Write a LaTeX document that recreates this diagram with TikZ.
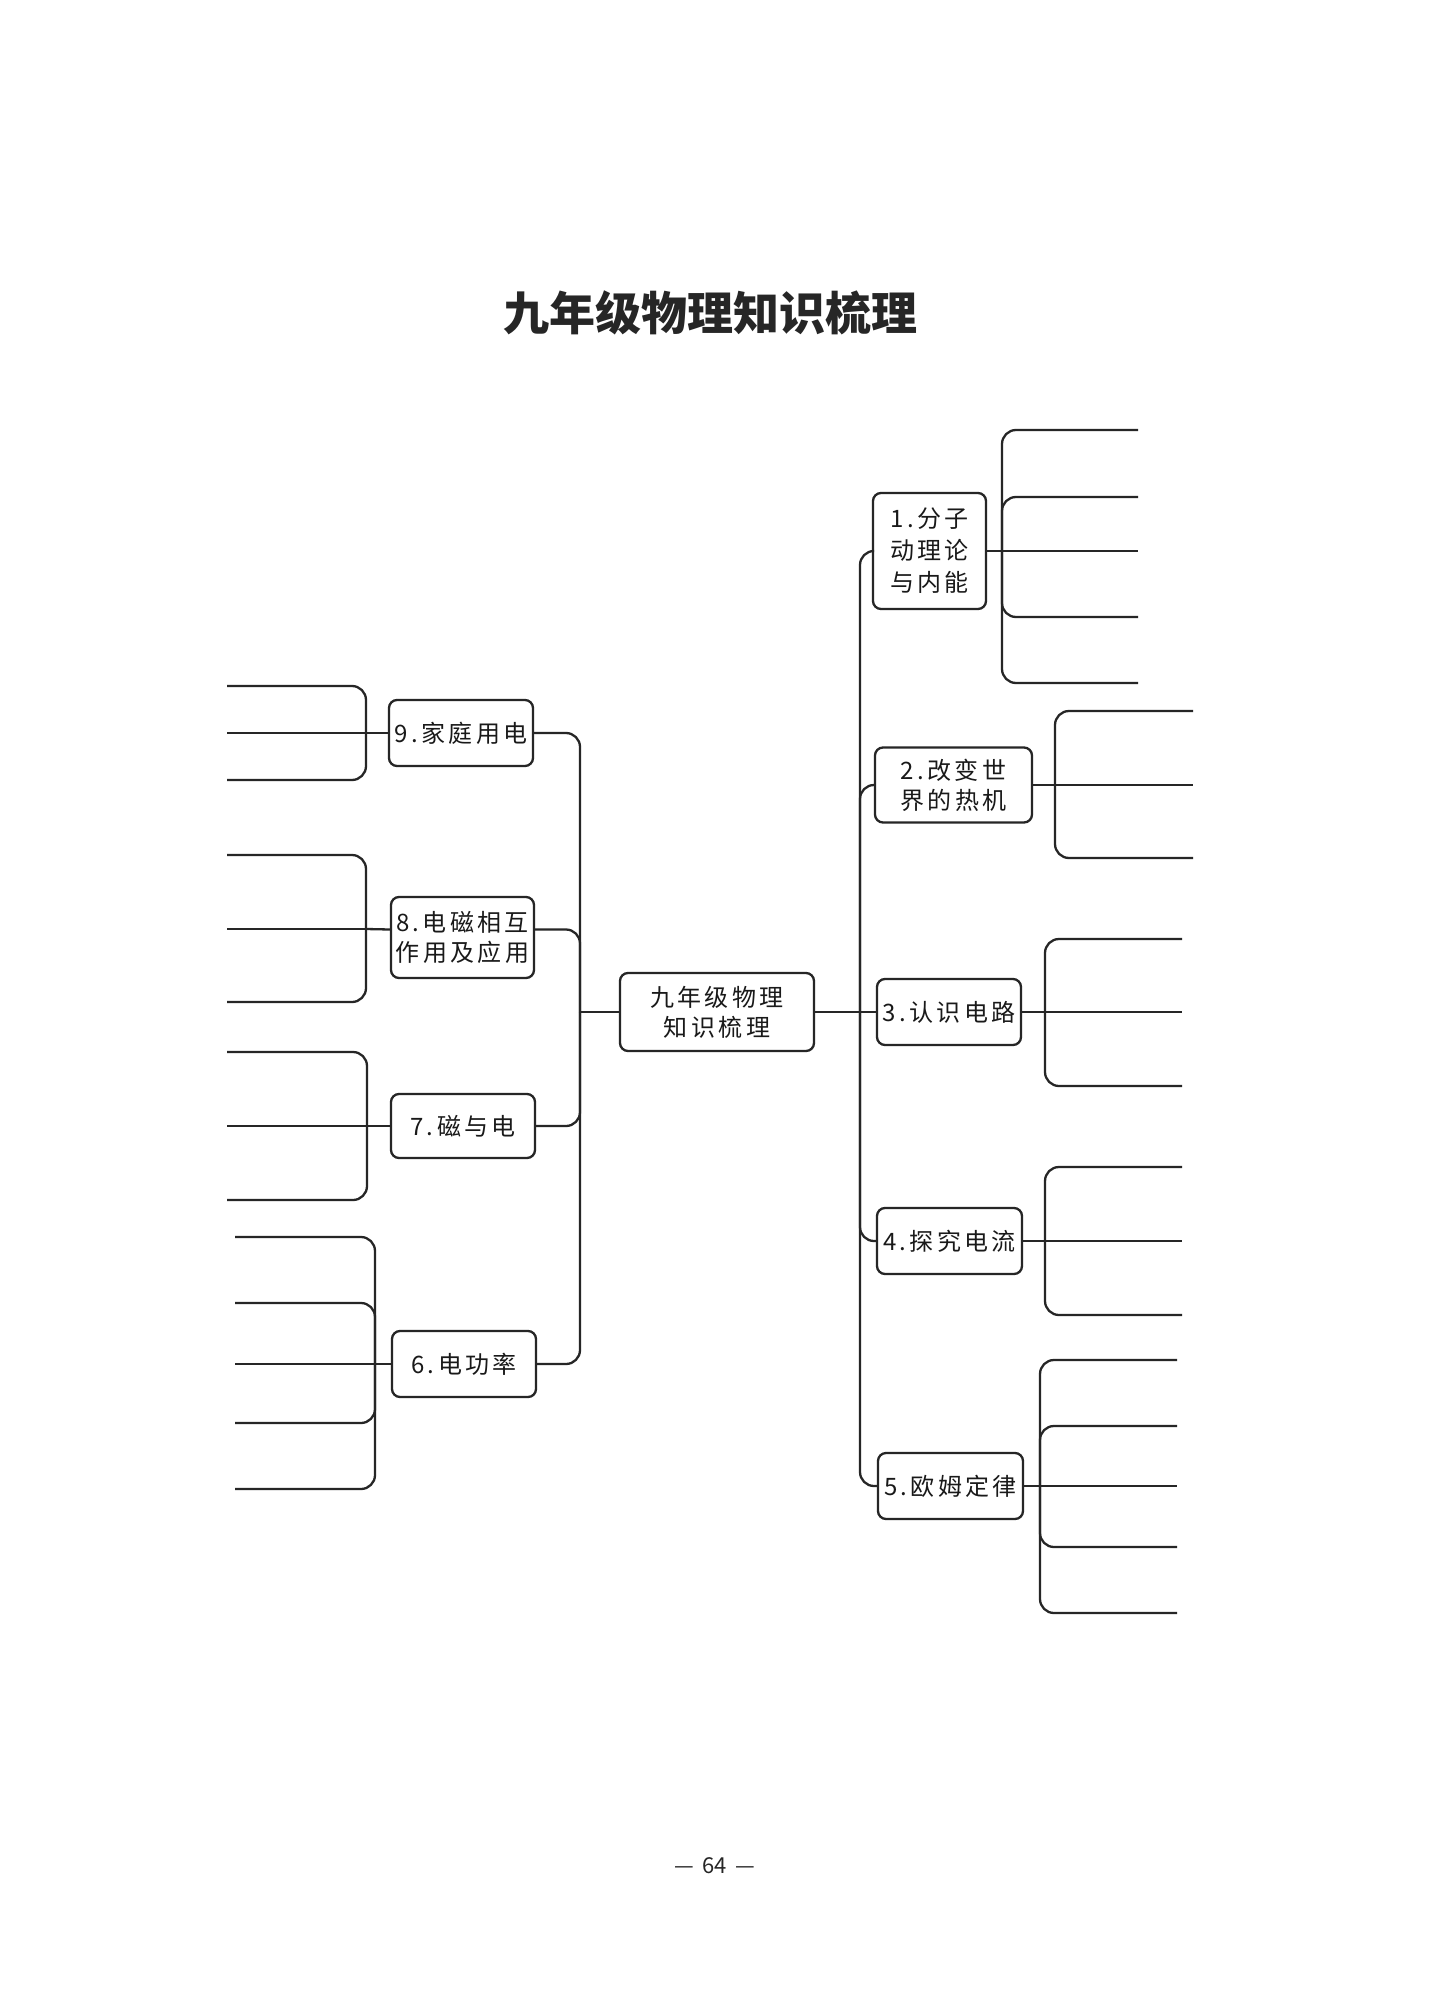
\documentclass[tikz,border=0pt]{standalone}
\usepackage{fontspec}
\newfontfamily\cjk[LetterSpace=14]{Noto Sans CJK SC}
\newfontfamily\cjkplain{Noto Sans CJK SC}
\begin{document}
\begin{tikzpicture}[x=0.5pt,y=-0.5pt,
  box/.style={draw=black!85,line width=1.15pt,rounded corners=4pt,align=center,
    font=\cjk\fontsize{12}{15}\selectfont,inner sep=0pt,text=black!90},
  wire/.style={draw=black!85,line width=1.15pt,rounded corners=7pt}]
\fill[white] (0,0) rectangle (1447,2000);
\useasboundingbox (0,0) rectangle (1447,2000);

\node[font=\cjkplain\bfseries\fontsize{23}{23}\selectfont,text=black!85] (title) at (710,313) {九年级物理知识梳理};

% centre
\node[box,minimum width=97pt,minimum height=39pt] (C) at (717,1012) {九年级物理\\知识梳理};

% right boxes
\node[box,minimum width=56.5pt,minimum height=58pt,font=\cjk\fontsize{12}{16}\selectfont] (B1) at (929.5,551) {1.分子\\动理论\\与内能};
\node[box,minimum width=78.5pt,minimum height=37.5pt] (B2) at (953.5,785) {2.改变世\\界的热机};
\node[box,minimum width=72pt,minimum height=33pt] (B3) at (949,1012) {3.认识电路};
\node[box,minimum width=72.5pt,minimum height=33pt] (B4) at (949.5,1241) {4.探究电流};
\node[box,minimum width=72.5pt,minimum height=33pt] (B5) at (950.5,1486) {5.欧姆定律};

% left boxes
\node[box,minimum width=72pt,minimum height=33pt] (B9) at (461,733) {9.家庭用电};
\node[box,minimum width=71.5pt,minimum height=40.5pt] (B8) at (462.5,937.5) {8.电磁相互\\作用及应用};
\node[box,minimum width=72pt,minimum height=32pt] (B7) at (463,1126) {7.磁与电};
\node[box,minimum width=72pt,minimum height=33pt] (B6) at (464,1364) {6.电功率};

% trunks
\coordinate (TR) at (860,1012);
\coordinate (TL) at (580,1012);
\draw[wire] (C.east) -- (TR);
\draw[wire] (C.west) -- (TL);
\foreach \b in {B1,B2,B4,B5} \draw[wire] (TR) |- (\b.west);
\draw[wire] (TR) -- (B3.west);
\foreach \b in {B9,B7,B6} \draw[wire] (TL) |- (\b.east);
\draw[wire] (TL) |- ([yshift=4pt]B8.east);

% right brackets
\coordinate (k1) at (1002,551);
\draw[wire] (B1.east) -- (k1);
\foreach \y in {430,497,617,683} {\coordinate (e1-\y) at (1138,\y); \draw[wire] (k1) |- (e1-\y);}
\coordinate (e1-m) at (1138,551); \draw[wire] (k1) -- (e1-m);

\coordinate (k2) at (1055,785);
\draw[wire] (B2.east) -- (k2);
\foreach \y in {711,858} {\coordinate (e2-\y) at (1193,\y); \draw[wire] (k2) |- (e2-\y);}
\coordinate (e2-m) at (1193,785); \draw[wire] (k2) -- (e2-m);

\coordinate (k3) at (1045,1012);
\draw[wire] (B3.east) -- (k3);
\foreach \y in {939,1086} {\coordinate (e3-\y) at (1182,\y); \draw[wire] (k3) |- (e3-\y);}
\coordinate (e3-m) at (1182,1012); \draw[wire] (k3) -- (e3-m);

\coordinate (k4) at (1045,1241);
\draw[wire] (B4.east) -- (k4);
\foreach \y in {1167,1315} {\coordinate (e4-\y) at (1182,\y); \draw[wire] (k4) |- (e4-\y);}
\coordinate (e4-m) at (1182,1241); \draw[wire] (k4) -- (e4-m);

\coordinate (k5) at (1040,1486);
\draw[wire] (B5.east) -- (k5);
\foreach \y in {1360,1426,1547,1613} {\coordinate (e5-\y) at (1177,\y); \draw[wire] (k5) |- (e5-\y);}
\coordinate (e5-m) at (1177,1486); \draw[wire] (k5) -- (e5-m);

% left brackets
\coordinate (k9) at (366,733);
\draw[wire] (B9.west) -- (k9);
\foreach \y in {686,780} {\coordinate (e9-\y) at (227,\y); \draw[wire] (k9) |- (e9-\y);}
\coordinate (e9-m) at (227,733); \draw[wire] (k9) -- (e9-m);

\coordinate (k8) at (366,929);
\draw[wire] ([yshift=4pt]B8.west) -- (k8);
\foreach \y in {855,1002} {\coordinate (e8-\y) at (227,\y); \draw[wire] (k8) |- (e8-\y);}
\coordinate (e8-m) at (227,929); \draw[wire] (k8) -- (e8-m);

\coordinate (k7) at (367,1126);
\draw[wire] (B7.west) -- (k7);
\foreach \y in {1052,1200} {\coordinate (e7-\y) at (227,\y); \draw[wire] (k7) |- (e7-\y);}
\coordinate (e7-m) at (227,1126); \draw[wire] (k7) -- (e7-m);

\coordinate (k6) at (375,1364);
\draw[wire] (B6.west) -- (k6);
\foreach \y in {1237,1303,1423,1489} {\coordinate (e6-\y) at (235,\y); \draw[wire] (k6) |- (e6-\y);}
\coordinate (e6-m) at (235,1364); \draw[wire] (k6) -- (e6-m);

\node[font=\cjkplain\fontsize{11}{11}\selectfont,text=black!85] (pg) at (715,1866) {— \,64\, —};
\end{tikzpicture}
\end{document}
